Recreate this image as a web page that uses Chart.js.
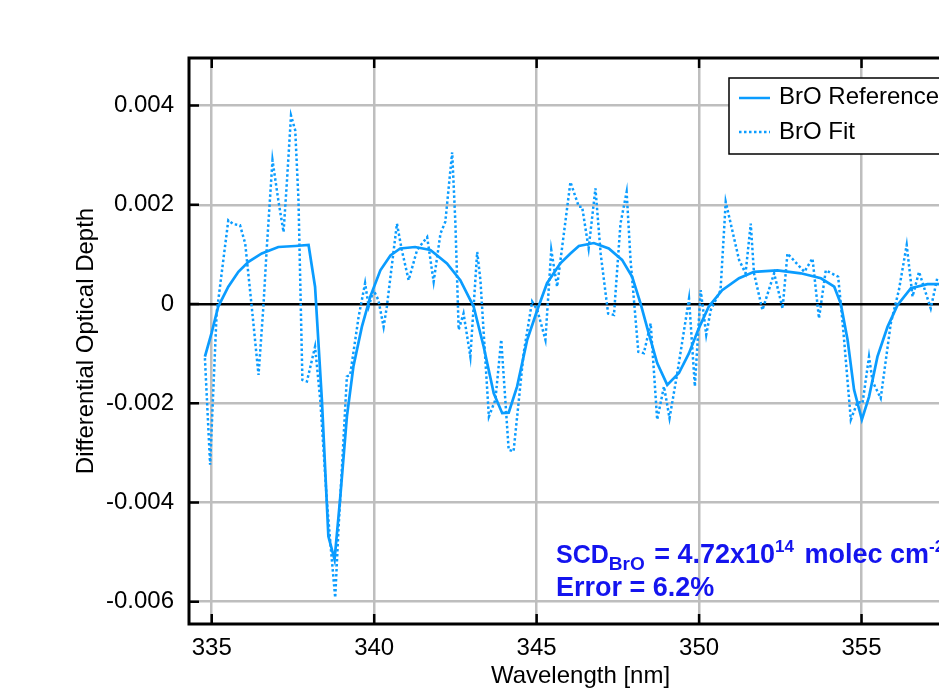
<!DOCTYPE html>
<html>
<head>
<meta charset="utf-8">
<script src="https://cdn.jsdelivr.net/npm/chart.js@4/dist/chart.umd.min.js"></script>
<style>
  html, body { margin: 0; padding: 0; background: #fff; overflow: hidden; }
  #wrap { width: 1000px; height: 699px; }
</style>
</head>
<body>
<div id="wrap"><canvas id="broChart" width="1000" height="699"></canvas></div>
<script>
// BrO differential optical depth: reference cross section vs. fitted residual+reference
const refWavelength = [334.79, 335.0, 335.2, 335.51, 335.82, 336.13, 336.54, 337.05, 337.57, 337.98,
  338.18, 338.39, 338.59, 338.78, 338.95, 339.16, 339.36, 339.62, 339.88, 340.19,
  340.5, 340.8, 341.26, 341.73, 342.24, 342.65, 343.06, 343.37, 343.68, 343.94,
  344.14, 344.4, 344.71, 345.02, 345.32, 345.73, 346.04, 346.3, 346.76, 347.22,
  347.63, 347.94, 348.2, 348.45, 348.71, 349.02, 349.38, 349.69, 349.99, 350.3,
  350.71, 351.23, 351.69, 352.41, 353.13, 353.75, 354.16, 354.36, 354.57, 354.77,
  355.01, 355.23, 355.49, 355.8, 356.11, 356.52, 357.03, 357.45];
const refDepth = [-0.00106, -0.00057, -0.00005, 0.00035, 0.00065, 0.00085, 0.00102, 0.00115, 0.00117, 0.00119,
  0.00035, -0.00193, -0.00468, -0.00515, -0.00394, -0.00227, -0.00126, -0.00046, 0.00015, 0.00068,
  0.00098, 0.00112, 0.00115, 0.00109, 0.00082, 0.00048, -0.00005, -0.00086, -0.0018, -0.0022,
  -0.00219, -0.00166, -0.00072, -0.00012, 0.00042, 0.00082, 0.00102, 0.00117, 0.00123, 0.00112,
  0.00089, 0.00055, 0.00001, -0.00059, -0.00119, -0.00163, -0.00139, -0.00099, -0.00049, -0.00005,
  0.00028, 0.00052, 0.00065, 0.00068, 0.00062, 0.00052, 0.00035, 0.00001, -0.00072, -0.00173,
  -0.00233, -0.00187, -0.00106, -0.00046, -0.00002, 0.00032, 0.0004, 0.0004];

const fitWavelength = [334.79, 334.95, 335.15, 335.51, 335.67, 335.87, 336.03, 336.23, 336.44, 336.59,
  336.69, 336.87, 337.05, 337.21, 337.31, 337.44, 337.57, 337.67, 337.79, 337.93,
  338.18, 338.34, 338.54, 338.65, 338.8, 338.9, 339.01, 339.16, 339.26, 339.52,
  339.72, 339.83, 339.98, 340.13, 340.29, 340.39, 340.7, 340.85, 341.06, 341.32,
  341.63, 341.83, 342.04, 342.19, 342.4, 342.5, 342.6, 342.75, 342.96, 343.17,
  343.27, 343.53, 343.73, 343.91, 344.14, 344.29, 344.6, 344.86, 345.02, 345.27,
  345.45, 345.63, 346.04, 346.3, 346.4, 346.6, 346.81, 346.97, 347.2, 347.38,
  347.58, 347.77, 347.89, 348.13, 348.3, 348.51, 348.71, 348.92, 349.09, 349.33,
  349.69, 349.87, 350.05, 350.22, 350.36, 350.66, 350.82, 351.23, 351.43, 351.59,
  351.69, 351.95, 352.31, 352.57, 352.72, 353.24, 353.49, 353.69, 353.9, 354.28,
  354.42, 354.67, 354.88, 355.03, 355.23, 355.34, 355.59, 355.9, 356.15, 356.39,
  356.57, 356.77, 357.13, 357.34];
const fitDepth = [-0.00109, -0.00324, -0.00019, 0.00169, 0.00161, 0.00159, 0.00122, -0.00005, -0.00143, -0.00005,
  0.00109, 0.0029, 0.00209, 0.00145, 0.00243, 0.0038, 0.0035, 0.00209, -0.00153, -0.00156,
  -0.00086, -0.00193, -0.00394, -0.00481, -0.00592, -0.00455, -0.00327, -0.00146, -0.00143, -0.00026,
  0.00042, -0.00005, 0.00028, 0.00008, -0.00046, -0.00005, 0.00162, 0.00109, 0.00048, 0.00109,
  0.00135, 0.00045, 0.00142, 0.00166, 0.00306, 0.00162, -0.00052, -0.00019, -0.00106, 0.00105,
  0.00048, -0.00227, -0.00193, -0.00072, -0.00294, -0.00297, -0.00099, 0.00005, -0.00012, -0.00072,
  0.00109, 0.00035, 0.00246, 0.00196, 0.00196, 0.00112, 0.00233, 0.00102, -0.00019, -0.00022,
  0.00162, 0.00226, 0.00089, -0.00096, -0.00099, -0.00039, -0.00233, -0.00166, -0.0023, -0.00139,
  0.00011, -0.00166, 0.00028, -0.00062, -0.00012, 0.00028, 0.00206, 0.00089, 0.00062, 0.00162,
  0.00062, -0.00012, 0.00062, -0.00009, 0.00102, 0.00065, 0.00092, -0.00029, 0.00068, 0.00055,
  -0.00039, -0.00233, -0.00197, -0.002, -0.00106, -0.00156, -0.0019, -0.00039, 0.00028, 0.00119,
  0.00015, 0.00065, -0.00009, 0.00055];

const xTickValues = [335, 340, 345, 350, 355];
const yTickValues = [-0.006, -0.004, -0.002, 0, 0.002, 0.004];
const seriesLabels = ['BrO Reference', 'BrO Fit'];

const LINE_BLUE = '#0a9cff';
const FONT = '"Liberation Sans", Arial, Helvetica, sans-serif';
const DOTS = [2.5, 2.5];

const toPoints = (xs, ys) => xs.map((x, i) => ({ x, y: ys[i] }));

// frame, inward tick marks, legend box and SCD annotation
const decorations = {
  id: 'decorations',
  afterDatasetsDraw(chart) {
    const { ctx, chartArea: a, scales } = chart;
    ctx.save();
    ctx.strokeStyle = '#000';
    ctx.lineWidth = 2.5;
    ctx.beginPath();
    xTickValues.forEach(v => {
      const px = scales.x.getPixelForValue(v);
      ctx.moveTo(px, a.bottom); ctx.lineTo(px, a.bottom - 10);
      ctx.moveTo(px, a.top); ctx.lineTo(px, a.top + 10);
    });
    yTickValues.forEach(v => {
      const py = scales.y.getPixelForValue(v);
      ctx.moveTo(a.left, py); ctx.lineTo(a.left + 10, py);
    });
    ctx.stroke();
    ctx.lineWidth = 3;
    ctx.strokeRect(a.left, a.top, a.right - a.left, a.bottom - a.top);
    ctx.restore();
  },
  afterDraw(chart) {
    const { ctx, chartArea: a } = chart;
    ctx.save();

    // legend
    const lx = a.right - 243, ly = a.top + 20;
    ctx.fillStyle = '#fff';
    ctx.fillRect(lx, ly, 233, 76);
    ctx.strokeStyle = '#000';
    ctx.lineWidth = 1.5;
    ctx.strokeRect(lx, ly, 233, 76);
    ctx.strokeStyle = LINE_BLUE;
    ctx.lineWidth = 2.5;
    ctx.beginPath(); ctx.moveTo(lx + 10, ly + 20); ctx.lineTo(lx + 41, ly + 20); ctx.stroke();
    ctx.setLineDash(DOTS);
    ctx.beginPath(); ctx.moveTo(lx + 10, ly + 54); ctx.lineTo(lx + 41, ly + 54); ctx.stroke();
    ctx.setLineDash([]);
    ctx.fillStyle = '#000';
    ctx.font = '24px ' + FONT;
    ctx.textBaseline = 'middle';
    ctx.fillText(seriesLabels[0], lx + 50, ly + 19);
    ctx.fillText(seriesLabels[1], lx + 50, ly + 54);

    // annotation, laid out piece by piece so sub/superscripts flow
    ctx.fillStyle = '#1414ee';
    ctx.textBaseline = 'alphabetic';
    let x = 556;
    const put = (txt, size, y, gap = 0) => {
      ctx.font = 'bold ' + size + 'px ' + FONT;
      ctx.fillText(txt, x, y);
      x += ctx.measureText(txt).width + gap;
    };
    put('SCD', 25, 563);
    put('BrO', 19, 570, 2);
    put(' = 4.72x10', 27, 563);
    put('14', 17, 552, 3);
    put(' molec cm', 27, 563);
    put('-2', 17, 552);
    x = 556;
    put('Error = 6.2%', 27, 596);
    ctx.restore();
  }
};

new Chart(document.getElementById('broChart'), {
  type: 'line',
  data: {
    datasets: [{
      label: seriesLabels[0],
      data: toPoints(refWavelength, refDepth),
      borderColor: LINE_BLUE,
      borderWidth: 2.7,
      pointRadius: 0,
      tension: 0
    }, {
      label: seriesLabels[1],
      data: toPoints(fitWavelength, fitDepth),
      borderColor: LINE_BLUE,
      borderWidth: 2.5,
      borderDash: DOTS,
      pointRadius: 0,
      tension: 0
    }]
  },
  options: {
    responsive: false,
    animation: false,
    layout: { padding: { left: 0, top: 58, right: 28, bottom: 0 } },
    plugins: { legend: { display: false }, tooltip: { enabled: false } },
    scales: {
      x: {
        type: 'linear',
        min: 334.3,
        max: 358.4,
        afterBuildTicks: s => { s.ticks = xTickValues.map(v => ({ value: v })); },
        afterFit: s => { s.height = 75; },
        grid: { color: '#bebebe', lineWidth: 2.5, drawTicks: false },
        border: { display: false },
        ticks: { color: '#000', font: { family: FONT, size: 24 }, padding: 10, maxRotation: 0 },
        title: { display: true, text: 'Wavelength [nm]', color: '#000', font: { family: FONT, size: 24 }, padding: { top: 0, bottom: 8 } }
      },
      y: {
        type: 'linear',
        min: -0.00645,
        max: 0.00496,
        afterBuildTicks: s => { s.ticks = yTickValues.map(v => ({ value: v })); },
        afterFit: s => { s.width = 189; },
        grid: {
          color: c => (c.tick && c.tick.value === 0 ? '#000' : '#bebebe'),
          lineWidth: 2.5,
          drawTicks: false
        },
        border: { display: false },
        ticks: {
          color: '#000', font: { family: FONT, size: 24 }, padding: 15,
          callback: v => (v === 0 ? '0' : v.toFixed(3))
        },
        title: { display: true, text: 'Differential Optical Depth', color: '#000', font: { family: FONT, size: 24 }, padding: { top: 72, bottom: 0 } }
      }
    }
  },
  plugins: [decorations]
});
</script>
</body>
</html>
